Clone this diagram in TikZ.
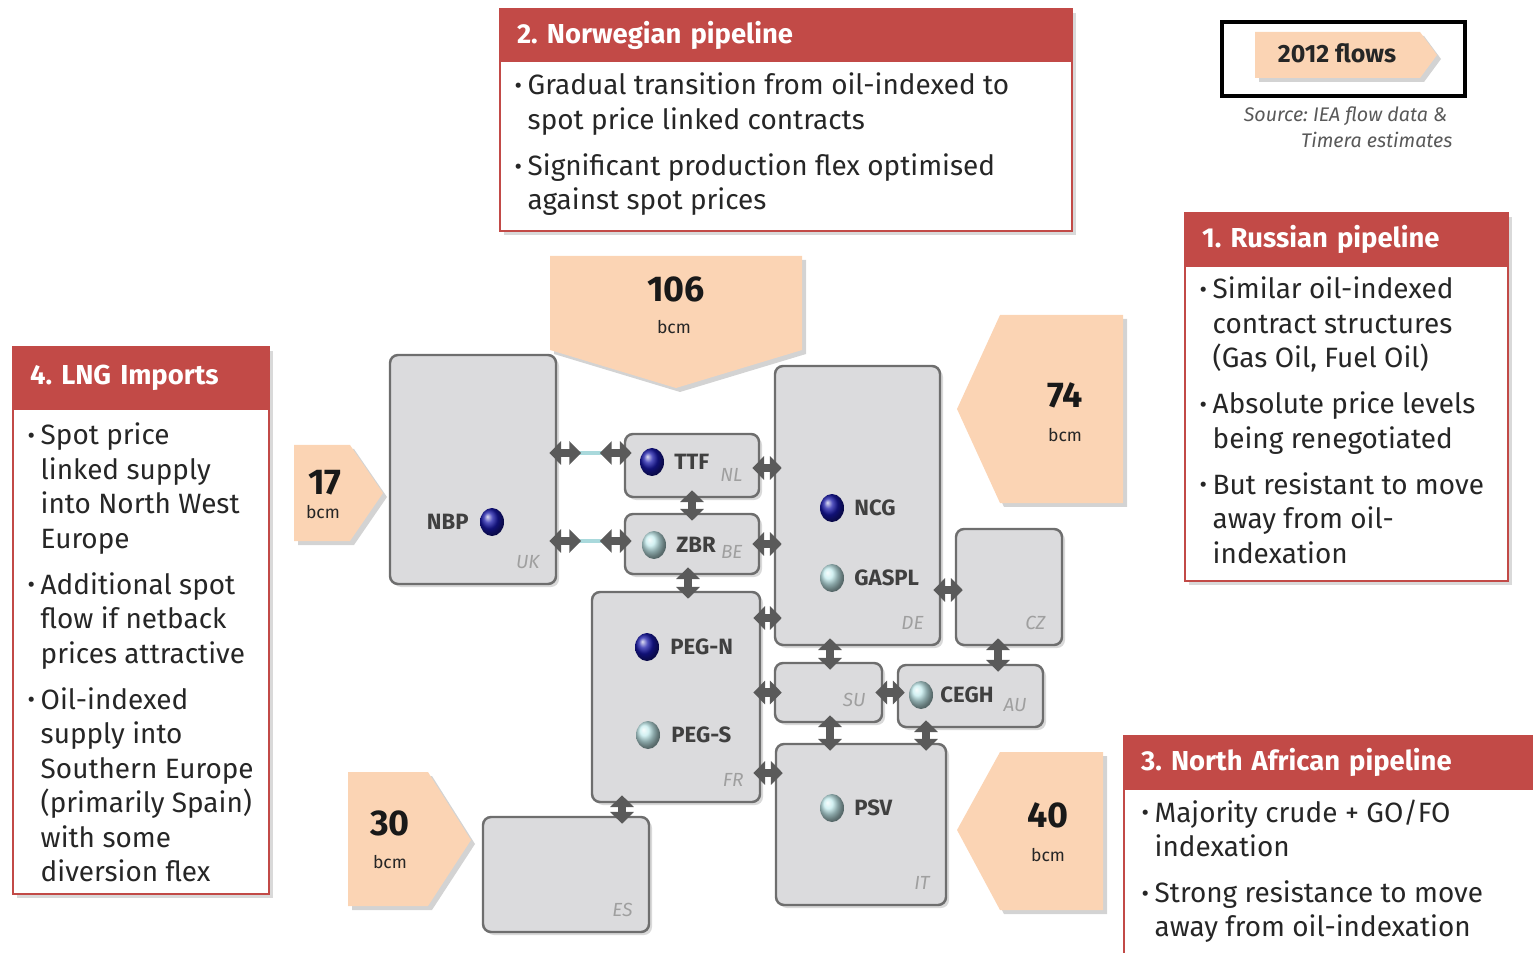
\documentclass[tikz,border=0pt]{standalone}
\usepackage{fontspec}
\setmainfont{Fira Sans}
\usepackage{tikz}
\usetikzlibrary{positioning, arrows.meta, shadows, shapes.geometric}
\frenchspacing

\definecolor{hdrred}{HTML}{C24A47}
\definecolor{peach}{HTML}{FBD4B4}
\definecolor{boxgrey}{HTML}{DBDBDD}
\definecolor{edgegrey}{HTML}{6E6E6E}
\definecolor{linkgrey}{HTML}{5A5A5A}
\definecolor{pipecyan}{HTML}{A9D9DC}
\definecolor{hubblue}{HTML}{1818A8}
\definecolor{hubcyan}{HTML}{C4ECEE}
\definecolor{inkgrey}{HTML}{262626}

\newcommand\bul{\raisebox{0.1ex}{\fontsize{6.5}{7}\selectfont\textbullet}}

\begin{document}
\begin{tikzpicture}[
  every node/.style={inner sep=0pt, text=inkgrey},
  country/.style={rectangle, rounded corners=0.08cm, draw=edgegrey, line width=0.7pt, fill=boxgrey,
    drop shadow={shadow xshift=0.03cm, shadow yshift=-0.03cm, opacity=0.3}},
  code/.style={font=\fontsize{5.4}{6}\selectfont\itshape, text=gray!75, anchor=base east},
  hubdark/.style={ellipse, minimum width=0.24cm, minimum height=0.28cm, shading=ball, ball color=hubblue},
  hublight/.style={ellipse, minimum width=0.24cm, minimum height=0.28cm, shading=ball, ball color=hubcyan},
  hub/.style={font=\fontsize{6.3}{7}\selectfont\bfseries, text=black!75},
  link/.style={draw=linkgrey, line width=2.4pt, {Triangle[length=3.4pt,width=6.6pt]}-{Triangle[length=3.4pt,width=6.6pt]},
    shorten <=-0.08cm, shorten >=-0.08cm},
  pipe/.style={draw=pipecyan, line width=1.3pt},
  flow/.style={fill=peach, drop shadow={shadow xshift=0.04cm, shadow yshift=-0.04cm, opacity=0.35}},
  num/.style={font=\fontsize{10.2}{11}\selectfont\bfseries, text=black!90},
  unit/.style={font=\fontsize{5}{6}\selectfont},
  callout/.style={draw=hdrred, line width=0.6pt, fill=white, anchor=north west,
    drop shadow={shadow xshift=0.04cm, shadow yshift=-0.04cm, opacity=0.3}},
  calhead/.style={fill=hdrred, draw=hdrred, line width=0.6pt, text=white, font=\fontsize{7.8}{9}\selectfont\bfseries,
    inner xsep=0.17cm, text width=#1, align=left, anchor=north west},
  bullets/.style={font=\fontsize{7.95}{9.8}\selectfont, anchor=base west},
  src/.style={font=\fontsize{5.6}{6}\selectfont\itshape, text=black!65, anchor=base east}
]
  \useasboundingbox (0,0) rectangle (15.33,-9.53);
  \clip (0,0) rectangle (15.33,-9.53);

  % --- callouts ---
  \node[callout, minimum width=5.72cm, minimum height=2.22cm] (norbox) at (4.99,-0.08) {};
  \node[calhead=5.38cm, minimum height=0.52cm] (norhead) at (norbox.north west) {2. Norwegian pipeline};
  \node[bullets] (nortext) at (5.14,-0.95) {\begin{tabular}[t]{@{}l@{\hspace{1.6pt}}l@{}}
    \bul & Gradual transition from oil-indexed to\\
         & spot price linked contracts\\[3.3pt]
    \bul & Significant production flex optimised\\
         & against spot prices
  \end{tabular}};

  \node[callout, minimum width=3.23cm, minimum height=3.68cm] (rusbox) at (11.84,-2.12) {};
  \node[calhead=2.89cm, minimum height=0.53cm] (rushead) at (rusbox.north west) {1. Russian pipeline};
  \node[bullets] (rustext) at (11.99,-2.99) {\begin{tabular}[t]{@{}l@{\hspace{1.6pt}}l@{}}
    \bul & Similar oil-indexed\\
         & contract structures\\
         & (Gas Oil, Fuel Oil)\\[3.3pt]
    \bul & Absolute price levels\\
         & being renegotiated\\[3.3pt]
    \bul & But resistant to move\\
         & away from oil-\\
         & indexation
  \end{tabular}};

  \node[callout, minimum width=2.56cm, minimum height=5.47cm] (lngbox) at (0.12,-3.46) {};
  \node[calhead=2.22cm, minimum height=0.62cm] (lnghead) at (lngbox.north west) {4. LNG Imports};
  \node[bullets] (lngtext) at (0.27,-4.45) {\begin{tabular}[t]{@{}l@{\hspace{1.6pt}}l@{}}
    \bul & Spot price\\
         & linked supply\\
         & into North West\\
         & Europe\\[3.3pt]
    \bul & Additional spot\\
         & flow if netback\\
         & prices attractive\\[3.3pt]
    \bul & Oil-indexed\\
         & supply into\\
         & Southern Europe\\
         & (primarily Spain)\\
         & with some\\
         & diversion flex
  \end{tabular}};

  \node[callout, minimum width=4.30cm, minimum height=2.40cm] (nafbox) at (11.23,-7.35) {};
  \node[calhead=3.96cm, minimum height=0.53cm] (nafhead) at (nafbox.north west) {3. North African pipeline};
  \node[bullets] (naftext) at (11.41,-8.22) {\begin{tabular}[t]{@{}l@{\hspace{1.6pt}}l@{}}
    \bul & Majority crude + GO/FO\\
         & indexation\\[3.3pt]
    \bul & Strong resistance to move\\
         & away from oil-indexation
  \end{tabular}};

  % --- legend ---
  \node[draw=black, line width=1pt, minimum width=2.43cm, minimum height=0.74cm, anchor=north west] (legend) at (12.20,-0.20) {};
  \fill[flow] (12.55,-0.32) -- (14.20,-0.32) -- (14.37,-0.55) -- (14.20,-0.78) -- (12.55,-0.78) -- cycle;
  \node[font=\fontsize{7.1}{8}\selectfont\bfseries] (legtext) at (13.37,-0.53) {2012 flows};
  \node[src] (src1) at (14.48,-1.22) {Source: IEA flow data \&};
  \node[src] (src2) at (14.53,-1.48) {Timera estimates};

  % --- supply flows ---
  \fill[flow] (5.50,-2.56) -- (8.02,-2.56) -- (8.02,-3.50) -- (6.76,-3.88) -- (5.50,-3.50) -- cycle;
  \node[num] (f106) at (6.76,-2.89) {106};
  \node[unit] (f106u) at (6.74,-3.27) {bcm};

  \fill[flow] (10.00,-3.15) -- (11.23,-3.15) -- (11.23,-5.03) -- (10.00,-5.03) -- (9.57,-4.09) -- cycle;
  \node[num] (f74) at (10.65,-3.95) {74};
  \node[unit] (f74u) at (10.65,-4.35) {bcm};

  \fill[flow] (2.94,-4.45) -- (3.50,-4.45) -- (3.83,-4.93) -- (3.50,-5.41) -- (2.94,-5.41) -- cycle;
  \node[num] (f17) at (3.25,-4.83) {17};
  \node[unit] (f17u) at (3.23,-5.12) {bcm};

  \fill[flow] (3.48,-7.72) -- (4.28,-7.72) -- (4.71,-8.40) -- (4.28,-9.06) -- (3.48,-9.06) -- cycle;
  \node[num] (f30) at (3.90,-8.23) {30};
  \node[unit] (f30u) at (3.90,-8.62) {bcm};

  \fill[flow] (10.00,-7.52) -- (11.03,-7.52) -- (11.03,-9.10) -- (10.00,-9.10) -- (9.57,-8.30) -- cycle;
  \node[num] (f40) at (10.48,-8.15) {40};
  \node[unit] (f40u) at (10.48,-8.55) {bcm};

  % --- market areas ---
  \node[country, minimum width=1.66cm, minimum height=2.29cm] (uk) at (4.73,-4.695) {};
  \node[country, minimum width=1.34cm, minimum height=0.63cm] (nl) at (6.92,-4.655) {};
  \node[country, minimum width=1.34cm, minimum height=0.60cm] (be) at (6.92,-5.44) {};
  \node[country, minimum width=1.65cm, minimum height=2.79cm] (de) at (8.575,-5.055) {};
  \node[country, minimum width=1.06cm, minimum height=1.16cm] (cz) at (10.09,-5.87) {};
  \node[country, minimum width=1.68cm, minimum height=2.10cm] (fr) at (6.76,-6.97) {};
  \node[country, minimum width=1.07cm, minimum height=0.59cm] (su) at (8.285,-6.925) {};
  \node[country, minimum width=1.45cm, minimum height=0.62cm] (au) at (9.705,-6.96) {};
  \node[country, minimum width=1.70cm, minimum height=1.61cm] (it) at (8.61,-8.245) {};
  \node[country, minimum width=1.66cm, minimum height=1.15cm] (es) at (5.66,-8.745) {};

  \node[code] (ukcode) at ([xshift=-0.17cm, yshift=0.17cm]uk.south east) {UK};
  \node[code] (nlcode) at ([xshift=-0.17cm, yshift=0.17cm]nl.south east) {NL};
  \node[code] (becode) at ([xshift=-0.17cm, yshift=0.17cm]be.south east) {BE};
  \node[code] (decode) at ([xshift=-0.17cm, yshift=0.17cm]de.south east) {DE};
  \node[code] (czcode) at ([xshift=-0.17cm, yshift=0.17cm]cz.south east) {CZ};
  \node[code] (frcode) at ([xshift=-0.17cm, yshift=0.17cm]fr.south east) {FR};
  \node[code] (sucode) at ([xshift=-0.17cm, yshift=0.17cm]su.south east) {SU};
  \node[code] (aucode) at ([xshift=-0.17cm, yshift=0.17cm]au.south east) {AU};
  \node[code] (itcode) at ([xshift=-0.17cm, yshift=0.17cm]it.south east) {IT};
  \node[code] (escode) at ([xshift=-0.17cm, yshift=0.17cm]es.south east) {ES};

  % --- hubs ---
  \node[hubdark] (nbpdot) at (4.92,-5.22) {};
  \node[hub, left=0.1cm of nbpdot] (nbp) {NBP};
  \node[hubdark] (ttfdot) at (6.52,-4.62) {};
  \node[hub, right=0.09cm of ttfdot] (ttf) {TTF};
  \node[hublight] (zbrdot) at (6.54,-5.45) {};
  \node[hub, right=0.09cm of zbrdot] (zbr) {ZBR};
  \node[hubdark] (ncgdot) at (8.32,-5.08) {};
  \node[hub, right=0.09cm of ncgdot] (ncg) {NCG};
  \node[hublight] (gaspldot) at (8.32,-5.78) {};
  \node[hub, right=0.09cm of gaspldot] (gaspl) {GASPL};
  \node[hubdark] (pegndot) at (6.47,-6.47) {};
  \node[hub, right=0.1cm of pegndot] (pegn) {PEG-N};
  \node[hublight] (pegsdot) at (6.48,-7.35) {};
  \node[hub, right=0.1cm of pegsdot] (pegs) {PEG-S};
  \node[hublight] (ceghdot) at (9.21,-6.95) {};
  \node[hub, right=0.06cm of ceghdot] (cegh) {CEGH};
  \node[hublight] (psvdot) at (8.32,-8.08) {};
  \node[hub, right=0.09cm of psvdot] (psv) {PSV};

  % --- interconnectors ---
  \draw[pipe] (uk.east |- 0,-4.53) -- (nl.west |- 0,-4.53);
  \draw[pipe] (uk.east |- 0,-5.41) -- (be.west |- 0,-5.41);
  \draw[link] (uk.east |- 0,-4.53) -- ++(0.16,0);
  \draw[link] (nl.west |- 0,-4.53) -- ++(-0.16,0);
  \draw[link] (uk.east |- 0,-5.41) -- ++(0.16,0);
  \draw[link] (be.west |- 0,-5.41) -- ++(-0.16,0);

  \draw[link] (6.92,0 |- nl.south) -- (6.92,0 |- be.north);
  \draw[link] (6.88,0 |- be.south) -- (6.88,0 |- fr.north);
  \draw[link] (nl.east |- 0,-4.68) -- (de.west |- 0,-4.68);
  \draw[link] (be.east) -- (be.east -| de.west);
  \draw[link] (fr.east |- 0,-6.18) -- (de.west |- 0,-6.18);
  \draw[link] (de.east |- 0,-5.90) -- (cz.west |- 0,-5.90);
  \draw[link] (8.30,0 |- de.south) -- (8.30,0 |- su.north);
  \draw[link] (9.98,0 |- cz.south) -- (9.98,0 |- au.north);
  \draw[link] (fr.east |- su.west) -- (su.west);
  \draw[link] (su.east) -- (su.east -| au.west);
  \draw[link] (8.30,0 |- su.south) -- (8.30,0 |- it.north);
  \draw[link] (9.26,0 |- au.south) -- (9.26,0 |- it.north);
  \draw[link] (fr.east |- 0,-7.73) -- (it.west |- 0,-7.73);
  \draw[link] (6.22,0 |- fr.south) -- (6.22,0 |- es.north);
\end{tikzpicture}
\end{document}
